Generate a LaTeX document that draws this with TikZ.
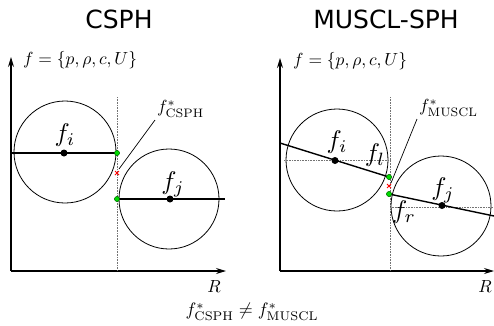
\documentclass[tikz,border=0pt]{standalone}
\usepackage{fontspec}
\newfontfamily\titlefont{DejaVu Sans}
\usetikzlibrary{arrows.meta}
\begin{document}
\begin{tikzpicture}[x=1pt,y=-1pt,
  axis/.style={line width=1.1pt,-{Stealth[length=10pt,width=6pt]}},
  circ/.style={line width=0.8pt},
  grad/.style={line width=1.4pt},
  guide/.style={densely dotted,black!55,line width=0.6pt},
  lead/.style={line width=0.7pt},
  ctr/.style={circle,fill=black,inner sep=0pt,minimum size=7pt},
  gdot/.style={circle,fill=green!85!black,draw=black!60!green,line width=0.4pt,inner sep=0pt,minimum size=5pt},
  rx/.style={red,line width=0.9pt},
  title/.style={font=\titlefont\fontsize{25}{30}\selectfont},
  small/.style={scale=1.75},
  big/.style={scale=2.55},
  bottom/.style={scale=1.8}
]
\useasboundingbox (0,0) rectangle (494,325);

% ---------- left panel: CSPH ----------
\node[title] (t1) at (119,19) {CSPH};
\coordinate (o1) at (11,271);
\coordinate (y1) at (11,57);
\coordinate (x1) at (226,271);
\draw[axis] (o1) -- (y1);
\draw[axis] (o1) -- (x1);
\node[small,anchor=west] (fl1) at (17,60) {$f=\{p,\rho,c,U\}$};
\node[small] (R1) at (214,287) {$R$};
\coordinate (vt1) at (117,97);
\coordinate (vb1) at (117,271);
\draw[guide] (vt1) -- (vb1);

\coordinate (ci1) at (65,152);
\coordinate (cj1) at (169,199);
\draw[circ] (ci1) circle[radius=51];
\draw[circ] (cj1) circle[radius=50];
\coordinate (li1) at (11,153);
\node[gdot] (gi1) at (117,153) {};
\node[gdot] (gj1) at (117,199) {};
\coordinate (rj1) at (225,199);
\draw[grad] (li1) -- (gi1.center);
\draw[grad] (gj1.center) -- (rj1);
\node[gdot] at (117,153) {};
\node[gdot] at (117,199) {};
\node[ctr] (di1) at (64,153) {};
\node[ctr] (dj1) at (170,199) {};
\node[big] (fi1) at (65,135) {$f_i$};
\node[big] (fj1) at (173,184) {$f_j$};

\coordinate (x1m) at (117,173);
\draw[rx] ([shift={(-2,-2)}]x1m) -- ([shift={(2,2)}]x1m) ([shift={(-2,2)}]x1m) -- ([shift={(2,-2)}]x1m);
\node[small,anchor=south west,inner sep=1pt] (s1) at (155,120) {$f^*_{\mathrm{CSPH}}$};
\coordinate (e1) at (119,169);
\draw[lead] (e1) -- (s1.south west);

% ---------- right panel: MUSCL-SPH ----------
\node[title] (t2) at (386,19) {MUSCL-SPH};
\coordinate (o2) at (280,271);
\coordinate (y2) at (280,58);
\coordinate (x2) at (494,271);
\draw[axis] (o2) -- (y2);
\draw[axis] (o2) -- (x2);
\node[small,anchor=west] (fl2) at (287,61) {$f=\{p,\rho,c,U\}$};
\node[small] (R2) at (485,287) {$R$};
\coordinate (vt2) at (390,97);
\coordinate (vb2) at (390,271);
\draw[guide] (vt2) -- (vb2);

\coordinate (ci2) at (337,160);
\coordinate (cj2) at (441,206);
\draw[circ] (ci2) circle[radius=51];
\draw[circ] (cj2) circle[radius=50];
\coordinate (hi2a) at (284,160);
\coordinate (hi2b) at (390,160);
\coordinate (hj2a) at (390,207);
\coordinate (hj2b) at (494,207);
\draw[guide] (hi2a) -- (hi2b);
\draw[guide] (hj2a) -- (hj2b);

\coordinate (li2) at (280,143);
\node[gdot] (gl2) at (389,177) {};
\node[gdot] (gr2) at (389,194) {};
\coordinate (rj2) at (494,216);
\draw[grad] (li2) -- (gl2.center);
\draw[grad] (gr2.center) -- (rj2);
\node[gdot] at (389,177) {};
\node[gdot] at (389,194) {};
\node[ctr] (di2) at (335,160.5) {};
\node[ctr] (dj2) at (442,205.5) {};
\node[big] (fi2) at (337,142) {$f_i$};
\node[big] (fl2b) at (375,155) {$f_l$};
\node[big] (fj2) at (443,190) {$f_j$};
\node[big] (fr2) at (404,212) {$f_r$};

\coordinate (x2m) at (389,186);
\draw[rx] ([shift={(-2,-2)}]x2m) -- ([shift={(2,2)}]x2m) ([shift={(-2,2)}]x2m) -- ([shift={(2,-2)}]x2m);
\node[small,anchor=south west,inner sep=1pt] (s2) at (417,119) {$f^*_{\mathrm{MUSCL}}$};
\coordinate (e2) at (391,183);
\draw[lead] (e2) -- (s2.south west);

% ---------- bottom ----------
\node[bottom] (neq) at (252,312) {$f^*_{\mathrm{CSPH}}\neq f^*_{\mathrm{MUSCL}}$};
\end{tikzpicture}
\end{document}
